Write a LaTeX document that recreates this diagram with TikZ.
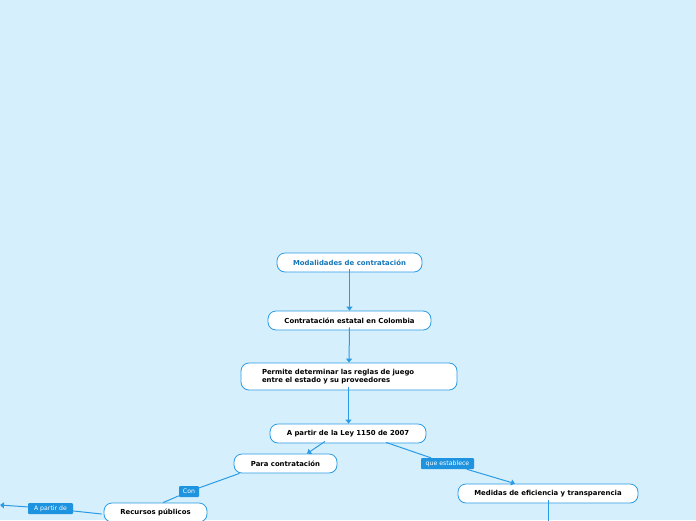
\documentclass[tikz,border=0pt]{standalone}
\usepackage{fontspec}
\setmainfont{DejaVu Sans}
\usetikzlibrary{arrows.meta}
\definecolor{bgc}{HTML}{D6EFFC}
\definecolor{edge}{HTML}{2A9BE4}
\definecolor{lab}{HTML}{1E93DF}
\definecolor{titc}{HTML}{1576B8}
\begin{document}
\begin{tikzpicture}[x=1pt,y=-1pt,
  box/.style={draw=edge,line width=0.8pt,fill=white,rounded corners=8pt,inner sep=0pt,font=\fontsize{6.9}{8.2}\selectfont\bfseries,text=black},
  lbl/.style={fill=lab,inner sep=0pt,rounded corners=1pt,font=\fontsize{6.2}{7}\selectfont,text=white},
  con/.style={draw=edge,line width=1pt},
  arr/.style={con,-{Triangle[length=4pt,width=6pt]}}]
\useasboundingbox (0,0) rectangle (696,520);
\fill[bgc] (0,0) rectangle (696,520);
\node[box,minimum width=145pt,minimum height=19pt,text=titc] (m) at (349.5,262.5) {Modalidades de contratación};
\node[box,minimum width=163pt,minimum height=19pt] (c) at (349.5,320.5) {Contratación estatal en Colombia};
\node[box,minimum width=216pt,minimum height=27pt,text width=174pt,align=left] (p) at (349,376.5) {Permite determinar las reglas de juego\\entre el estado y su proveedores};
\node[box,minimum width=156pt,minimum height=19pt] (l) at (348,433.5) {A partir de la Ley 1150 de 2007};
\node[box,minimum width=103pt,minimum height=19pt] (pc) at (285.5,463.5) {Para contratación};
\node[box,minimum width=180pt,minimum height=19pt] (md) at (548,493.5) {Medidas de eficiencia y transparencia};
\node[box,minimum width=103pt,minimum height=19pt] (rp) at (155.5,512.5) {Recursos públicos};
\node[lbl,minimum width=53pt,minimum height=11pt] (qe) at (447.5,463.5) {que establece};
\node[lbl,minimum width=20pt,minimum height=11pt] (cn) at (189,491.5) {Con};
\node[lbl,minimum width=45pt,minimum height=11pt] (ap) at (50.5,508.5) {A partir de};
\coordinate (le) at (0,505);
\coordinate (bd) at (548,522);
\draw[arr] ([yshift=3pt]m.south) -- (c.north);
\draw[arr] ([yshift=3pt]c.south) -- (p.north);
\draw[arr] ([xshift=-0.5pt,yshift=3pt]p.south) -- ([xshift=0.5pt]l.north);
\draw[arr] ([xshift=-23pt,yshift=2pt]l.south) -- ([xshift=21.5pt]pc.north);
\draw[con] ([xshift=38pt,yshift=1pt]l.south) -- (qe);
\draw[arr] (qe) -- ([xshift=-33pt]md.north);
\draw[con] ([xshift=-46pt]pc.south) -- (cn);
\draw[con] (cn) -- ([xshift=7.5pt]rp.north);
\draw[con] ([xshift=-2pt,yshift=-1.5pt]rp.west) -- (ap);
\draw[arr] (ap) -- (le);
\draw[con] ([yshift=3pt]md.south) -- (bd);
\end{tikzpicture}
\end{document}
